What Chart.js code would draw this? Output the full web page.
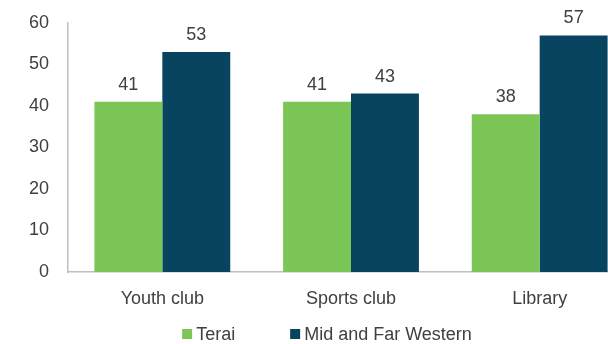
<!DOCTYPE html>
<html>
<head>
<meta charset="utf-8">
<script src="https://cdn.jsdelivr.net/npm/chart.js@4"></script>
<style>
  html, body { margin: 0; padding: 0; background: #fff; overflow: hidden; }
  #wrap { width: 634px; height: 344px; }
</style>
</head>
<body>
<div id="wrap"><canvas id="myChart"></canvas></div>
<script>
var categories = ['Youth club', 'Sports club', 'Library']
var terai = [41, 41, 38]
var midFarWestern = [53, 43, 57]
var yTicks = [0, 10, 20, 30, 40, 50, 60]

var FONT = "'Liberation Sans', Arial, sans-serif"
var TEXT = '#404040'

// draw the value above each bar
var barLabels = {
  id: 'barLabels',
  afterDatasetsDraw: function(chart) {
    var ctx = chart.ctx
    ctx.save()
    ctx.font = '18px ' + FONT
    ctx.fillStyle = TEXT
    ctx.textAlign = 'center'
    ctx.textBaseline = 'bottom'
    chart.data.datasets.forEach(function(ds, i) {
      chart.getDatasetMeta(i).data.forEach(function(bar, j) {
        ctx.fillText(ds.data[j], bar.x, bar.y - 8)
      })
    })
    ctx.restore()
  }
}

// legend drawn by hand so the item gap and the row height can differ
var bottomLegend = {
  id: 'bottomLegend',
  afterDraw: function(chart) {
    var ctx = chart.ctx
    var box = 10, gap = 4, itemGap = 55, y = 334
    ctx.save()
    ctx.font = '18px ' + FONT
    ctx.textBaseline = 'middle'
    var widths = chart.data.datasets.map(function(ds) {
      return box + gap + ctx.measureText(ds.label).width
    })
    var total = widths.reduce(function(a, b) { return a + b }, 0) + itemGap * (widths.length - 1)
    var x = 327 - total / 2
    chart.data.datasets.forEach(function(ds, i) {
      ctx.fillStyle = ds.backgroundColor
      ctx.fillRect(x, y - box / 2, box, box)
      ctx.fillStyle = TEXT
      ctx.fillText(ds.label, x + box + gap, y + 1)
      x += widths[i] + itemGap
    })
    ctx.restore()
  }
}

var ctx = document.getElementById('myChart').getContext('2d')
var chart = new Chart(ctx, {
  type: 'bar',
  data: {
    labels: categories,
    datasets: [{
      label: 'Terai',
      backgroundColor: '#7BC657',
      data: terai
    }, {
      label: 'Mid and Far Western',
      backgroundColor: '#08445F',
      data: midFarWestern
    }]
  },
  options: {
    responsive: true,
    maintainAspectRatio: false,
    animation: false,
    layout: { padding: { top: 23, left: 0, right: 0, bottom: 32 } },
    datasets: { bar: { barPercentage: 1.0, categoryPercentage: 0.72 } },
    plugins: {
      legend: { display: false },
      tooltip: { enabled: false }
    },
    scales: {
      x: {
        grid: { display: false },
        border: { color: '#BFBFBF', width: 1.5 },
        ticks: { color: TEXT, font: { family: FONT, size: 18 }, padding: 8 },
        afterFit: function(scale) { scale.height = 40 }
      },
      y: {
        min: 0,
        max: 60,
        afterBuildTicks: function(scale) {
          scale.ticks = yTicks.map(function(v) { return { value: v } })
        },
        grid: { display: false },
        border: { color: '#BFBFBF', width: 1.5 },
        ticks: { color: TEXT, font: { family: FONT, size: 18 }, padding: 11 },
        afterFit: function(scale) { scale.width = 68 }
      }
    }
  },
  plugins: [barLabels, bottomLegend]
})
</script>
</body>
</html>
